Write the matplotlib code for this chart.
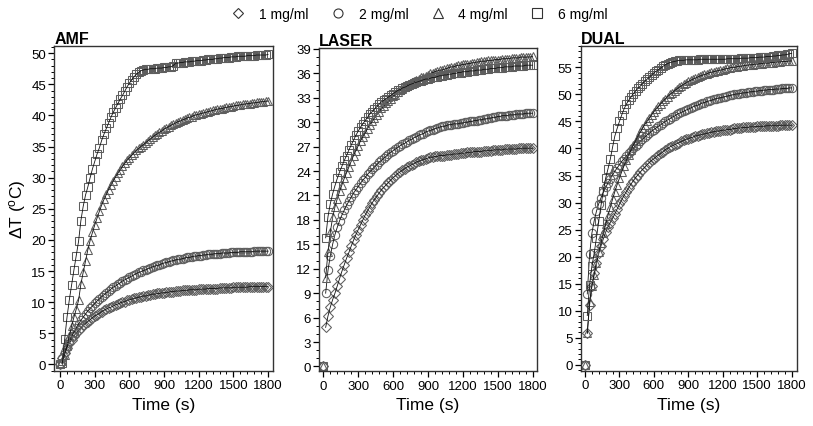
import numpy as np
import matplotlib
matplotlib.use("Agg")
import matplotlib.pyplot as plt
from matplotlib.ticker import MultipleLocator
from matplotlib.lines import Line2D

plt.rcParams['font.family'] = ['Liberation Sans', 'DejaVu Sans']

# sampling times (s), one reading every 20 s
time_s = np.arange(0, 1801, 20)

labels = ['1 mg/ml', '2 mg/ml', '4 mg/ml', '6 mg/ml']
markers = ['D', 'o', '^', 's']

# ---- AMF ----
amf_1 = [0.0, 1.0, 1.9, 2.7, 3.4, 4.0, 4.6, 5.1, 5.5, 5.9,
         6.3, 6.6, 6.9, 7.2, 7.5, 7.8, 8.0, 8.2, 8.5, 8.7,
         8.9, 9.1, 9.2, 9.4, 9.6, 9.7, 9.9, 10.0, 10.1, 10.3,
         10.4, 10.5, 10.6, 10.7, 10.8, 10.9, 11.0, 11.0, 11.1, 11.2,
         11.3, 11.3, 11.4, 11.4, 11.5, 11.5, 11.6, 11.6, 11.7, 11.7,
         11.8, 11.8, 11.8, 11.9, 11.9, 11.9, 12.0, 12.0, 12.0, 12.0,
         12.1, 12.1, 12.1, 12.1, 12.2, 12.2, 12.2, 12.2, 12.2, 12.3,
         12.3, 12.3, 12.3, 12.3, 12.3, 12.4, 12.4, 12.4, 12.4, 12.4,
         12.4, 12.4, 12.5, 12.5, 12.5, 12.5, 12.5, 12.5, 12.5, 12.5,
         12.5]
amf_2 = [0.0, 1.0, 2.0, 2.9, 3.7, 4.5, 5.2, 5.9, 6.5, 7.1,
         7.6, 8.1, 8.6, 9.0, 9.4, 9.8, 10.2, 10.5, 10.9, 11.2,
         11.5, 11.8, 12.1, 12.4, 12.6, 12.9, 13.1, 13.4, 13.6, 13.8,
         14.0, 14.2, 14.4, 14.6, 14.8, 14.9, 15.1, 15.2, 15.4, 15.5,
         15.7, 15.8, 15.9, 16.0, 16.2, 16.3, 16.4, 16.5, 16.6, 16.7,
         16.8, 16.9, 16.9, 17.0, 17.1, 17.2, 17.2, 17.3, 17.4, 17.4,
         17.5, 17.5, 17.6, 17.6, 17.7, 17.7, 17.7, 17.8, 17.8, 17.8,
         17.9, 17.9, 17.9, 17.9, 18.0, 18.0, 18.0, 18.0, 18.1, 18.1,
         18.1, 18.1, 18.1, 18.1, 18.2, 18.2, 18.2, 18.2, 18.2, 18.2,
         18.2]
amf_4 = [0.0, 0.5, 1.6, 3.0, 4.6, 6.2, 7.6, 8.9, 10.3, 12.9,
         14.8, 16.6, 18.4, 19.9, 21.2, 22.4, 23.5, 24.6, 25.6, 26.5,
         27.3, 28.1, 28.8, 29.5, 30.1, 30.7, 31.3, 31.8, 32.3, 32.8,
         33.2, 33.6, 34.0, 34.4, 34.7, 35.0, 35.3, 35.6, 35.9, 36.2,
         36.5, 36.8, 37.0, 37.3, 37.5, 37.8, 38.0, 38.2, 38.4, 38.6,
         38.8, 39.0, 39.1, 39.3, 39.4, 39.6, 39.7, 39.8, 40.0, 40.1,
         40.2, 40.3, 40.4, 40.5, 40.6, 40.7, 40.8, 40.9, 41.0, 41.1,
         41.1, 41.2, 41.3, 41.4, 41.4, 41.5, 41.6, 41.6, 41.7, 41.8,
         41.8, 41.9, 41.9, 42.0, 42.0, 42.1, 42.1, 42.2, 42.2, 42.3,
         42.3]
amf_6 = [0.0, 0.2, 4.1, 7.6, 10.4, 12.8, 15.2, 17.5, 19.8, 23.1,
         25.4, 27.2, 28.5, 30.0, 31.4, 32.6, 33.8, 34.8, 36.0, 37.0,
         37.9, 38.8, 39.7, 40.5, 41.2, 41.9, 42.6, 43.2, 43.9, 44.6,
         45.2, 45.7, 46.2, 46.6, 46.9, 47.2, 47.3, 47.4, 47.4, 47.5,
         47.5, 47.5, 47.6, 47.6, 47.6, 47.7, 47.7, 47.8, 47.8, 48.0,
         48.4, 48.4, 48.5, 48.5, 48.6, 48.6, 48.6, 48.7, 48.7, 48.8,
         48.8, 48.8, 48.9, 48.9, 49.0, 49.0, 49.0, 49.1, 49.1, 49.2,
         49.2, 49.3, 49.3, 49.3, 49.4, 49.4, 49.4, 49.5, 49.5, 49.5,
         49.5, 49.6, 49.6, 49.6, 49.6, 49.7, 49.7, 49.7, 49.7, 49.7,
         49.8]

# ---- LASER ----
laser_1 = [0.0, 4.8, 6.2, 7.3, 8.2, 9.0, 9.9, 10.8, 11.7, 12.5,
           13.3, 14.0, 14.8, 15.5, 16.2, 16.8, 17.4, 18.0, 18.6, 19.1,
           19.6, 20.1, 20.5, 20.9, 21.3, 21.7, 22.0, 22.3, 22.6, 22.9,
           23.2, 23.4, 23.7, 23.9, 24.1, 24.3, 24.5, 24.6, 24.8, 24.9,
           25.1, 25.2, 25.3, 25.4, 25.5, 25.6, 25.7, 25.7, 25.8, 25.8,
           25.9, 25.9, 25.9, 26.0, 26.0, 26.0, 26.1, 26.1, 26.1, 26.2,
           26.2, 26.2, 26.3, 26.3, 26.3, 26.4, 26.4, 26.4, 26.4, 26.5,
           26.5, 26.5, 26.5, 26.6, 26.6, 26.6, 26.6, 26.6, 26.7, 26.7,
           26.7, 26.7, 26.7, 26.7, 26.8, 26.8, 26.8, 26.8, 26.8, 26.8,
           26.8]
laser_2 = [0.0, 9.0, 11.8, 13.6, 15.0, 16.2, 17.1, 17.9, 18.6, 19.2,
           19.8, 20.3, 20.8, 21.3, 21.7, 22.1, 22.5, 22.9, 23.2, 23.6,
           23.9, 24.2, 24.5, 24.8, 25.1, 25.3, 25.6, 25.8, 26.1, 26.3,
           26.5, 26.7, 26.9, 27.1, 27.3, 27.4, 27.6, 27.8, 27.9, 28.1,
           28.2, 28.4, 28.5, 28.6, 28.8, 28.9, 29.0, 29.1, 29.2, 29.3,
           29.4, 29.5, 29.5, 29.6, 29.7, 29.7, 29.8, 29.8, 29.8, 29.9,
           29.9, 30.0, 30.0, 30.1, 30.1, 30.2, 30.2, 30.3, 30.3, 30.4,
           30.4, 30.5, 30.5, 30.6, 30.6, 30.7, 30.7, 30.8, 30.8, 30.8,
           30.9, 30.9, 30.9, 31.0, 31.0, 31.0, 31.0, 31.1, 31.1, 31.1,
           31.1]
laser_4 = [0.0, 10.9, 14.1, 16.5, 18.3, 19.6, 20.6, 21.5, 22.3, 23.1,
           23.8, 24.5, 25.2, 25.9, 26.5, 27.1, 27.7, 28.2, 28.7, 29.2,
           29.7, 30.1, 30.5, 30.9, 31.3, 31.7, 32.0, 32.3, 32.6, 32.9,
           33.2, 33.4, 33.7, 33.9, 34.1, 34.3, 34.5, 34.7, 34.9, 35.0,
           35.2, 35.3, 35.5, 35.6, 35.7, 35.8, 36.0, 36.1, 36.2, 36.3,
           36.4, 36.4, 36.5, 36.6, 36.7, 36.8, 36.8, 36.9, 37.0, 37.0,
           37.1, 37.1, 37.2, 37.2, 37.3, 37.3, 37.4, 37.4, 37.5, 37.5,
           37.5, 37.6, 37.6, 37.6, 37.7, 37.7, 37.7, 37.8, 37.8, 37.8,
           37.8, 37.9, 37.9, 37.9, 37.9, 38.0, 38.0, 38.0, 38.0, 38.0,
           38.1]
laser_6 = [0.0, 15.8, 18.4, 20.0, 21.2, 22.2, 23.1, 23.9, 24.6, 25.3,
           25.9, 26.6, 27.2, 27.8, 28.4, 28.9, 29.4, 29.8, 30.2, 30.6,
           31.0, 31.3, 31.6, 31.9, 32.2, 32.5, 32.7, 32.9, 33.1, 33.3,
           33.5, 33.7, 33.9, 34.0, 34.2, 34.3, 34.4, 34.6, 34.7, 34.8,
           34.9, 35.0, 35.1, 35.2, 35.3, 35.3, 35.4, 35.5, 35.5, 35.6,
           35.7, 35.7, 35.8, 35.8, 35.9, 35.9, 36.0, 36.0, 36.1, 36.1,
           36.2, 36.2, 36.2, 36.3, 36.3, 36.3, 36.4, 36.4, 36.4, 36.5,
           36.5, 36.5, 36.6, 36.6, 36.6, 36.7, 36.7, 36.7, 36.8, 36.8,
           36.8, 36.8, 36.9, 36.9, 36.9, 36.9, 36.9, 37.0, 37.0, 37.0,
           37.0]

# ---- DUAL ----
dual_1 = [0.0, 5.8, 11.0, 14.6, 17.0, 18.9, 20.6, 22.0, 23.3, 24.5,
          25.5, 26.3, 27.1, 27.9, 28.8, 29.7, 30.5, 31.3, 32.0, 32.7,
          33.4, 34.0, 34.6, 35.1, 35.6, 36.1, 36.5, 37.0, 37.4, 37.8,
          38.1, 38.5, 38.8, 39.1, 39.4, 39.8, 40.0, 40.3, 40.5, 40.7,
          40.9, 41.1, 41.3, 41.5, 41.7, 41.8, 42.0, 42.1, 42.3, 42.4,
          42.5, 42.6, 42.7, 42.8, 42.9, 43.0, 43.1, 43.2, 43.2, 43.3,
          43.4, 43.4, 43.5, 43.5, 43.6, 43.7, 43.7, 43.8, 43.8, 43.9,
          43.9, 43.9, 44.0, 44.0, 44.0, 44.1, 44.1, 44.1, 44.1, 44.2,
          44.2, 44.2, 44.2, 44.2, 44.2, 44.3, 44.3, 44.3, 44.3, 44.3,
          44.3]
dual_2 = [0.0, 13.1, 20.4, 24.3, 26.6, 28.4, 29.8, 30.9, 31.9, 32.8,
          33.6, 34.4, 35.1, 35.8, 36.4, 37.0, 37.6, 38.1, 38.6, 39.1,
          39.6, 40.0, 40.5, 40.9, 41.3, 41.7, 42.1, 42.5, 42.8, 43.2,
          43.5, 43.8, 44.1, 44.4, 44.7, 45.0, 45.3, 45.5, 45.8, 46.0,
          46.3, 46.5, 46.7, 46.9, 47.1, 47.3, 47.5, 47.7, 47.9, 48.0,
          48.2, 48.4, 48.5, 48.7, 48.8, 48.9, 49.1, 49.2, 49.3, 49.4,
          49.5, 49.6, 49.7, 49.8, 49.9, 50.0, 50.1, 50.1, 50.2, 50.3,
          50.3, 50.4, 50.5, 50.5, 50.6, 50.6, 50.7, 50.7, 50.8, 50.8,
          50.9, 50.9, 50.9, 51.0, 51.0, 51.0, 51.1, 51.1, 51.1, 51.2,
          51.2]
dual_4 = [0.0, 5.9, 11.6, 14.5, 16.6, 18.8, 20.9, 22.6, 24.3, 26.0,
          27.6, 29.1, 30.6, 32.0, 33.3, 34.5, 35.7, 36.8, 37.8, 38.8,
          39.7, 40.6, 41.4, 42.2, 43.0, 43.7, 44.4, 45.0, 45.6, 46.2,
          46.8, 47.3, 47.8, 48.3, 48.7, 49.2, 49.6, 50.0, 50.3, 50.7,
          51.0, 51.3, 51.6, 51.9, 52.1, 52.4, 52.6, 52.8, 53.0, 53.2,
          53.4, 53.5, 53.7, 53.8, 54.0, 54.1, 54.2, 54.3, 54.4, 54.5,
          54.6, 54.7, 54.8, 54.9, 55.0, 55.0, 55.1, 55.2, 55.2, 55.3,
          55.4, 55.4, 55.5, 55.5, 55.6, 55.6, 55.7, 55.7, 55.8, 55.8,
          55.8, 55.9, 55.9, 56.0, 56.0, 56.0, 56.1, 56.1, 56.1, 56.2,
          56.2]
dual_6 = [0.0, 9.1, 14.8, 18.2, 20.6, 23.5, 26.6, 29.5, 32.2, 34.5,
          36.2, 38.0, 40.2, 42.3, 43.7, 45.0, 46.2, 47.3, 48.2, 48.9,
          49.5, 50.1, 50.6, 51.1, 51.5, 52.0, 52.4, 52.8, 53.2, 53.6,
          54.0, 54.3, 54.6, 54.9, 55.2, 55.5, 55.7, 55.9, 56.0, 56.1,
          56.2, 56.3, 56.3, 56.3, 56.4, 56.4, 56.4, 56.4, 56.4, 56.4,
          56.5, 56.5, 56.5, 56.5, 56.5, 56.5, 56.5, 56.5, 56.5, 56.5,
          56.5, 56.5, 56.6, 56.6, 56.6, 56.6, 56.6, 56.6, 56.7, 56.7,
          56.7, 56.7, 56.8, 56.8, 56.8, 56.8, 56.9, 56.9, 56.9, 57.0,
          57.0, 57.0, 57.1, 57.1, 57.2, 57.2, 57.3, 57.3, 57.4, 57.5,
          57.6]

panels = [
    ('AMF', [amf_1, amf_2, amf_4, amf_6], (-1.0, 51.1), 5,
     [0.0668, 0.1295, 0.2686, 0.7597], (-50, 1840)),
    ('LASER', [laser_1, laser_2, laser_4, laser_6], (-0.6, 39.1), 3,
     [0.3927, 0.1280, 0.2674, 0.7570], (-35, 1835)),
    ('DUAL', [dual_1, dual_2, dual_4, dual_6], (-1.1, 59.0), 5,
     [0.7143, 0.1295, 0.2657, 0.7610], (-37, 1844)),
]

fig = plt.figure(figsize=(8.13, 4.27), dpi=100)
edge = '#5e5e5e'

for i, (name, series, ylim, ystep, rect, xlim) in enumerate(panels):
    ax = fig.add_axes(rect)
    for vals, m in zip(series, markers):
        assert len(vals) == len(time_s), (name, len(vals))
        ms = 5.2 if m == 'D' else 6.0
        ax.plot(time_s, vals, linestyle='none', marker=m, ms=ms,
                mfc='none', mec=edge, mew=0.75)
        # fitted curve drawn through the readings after switch-on
        ax.plot(time_s[1:], vals[1:], color='#111111', lw=0.6)
    ax.set_xlim(*xlim)
    ax.set_ylim(*ylim)
    ax.xaxis.set_major_locator(MultipleLocator(300))
    ax.xaxis.set_minor_locator(MultipleLocator(60))
    ax.yaxis.set_major_locator(MultipleLocator(ystep))
    ax.yaxis.set_minor_locator(MultipleLocator(1))
    ax.tick_params(which='major', direction='out', length=4, width=0.9,
                   labelsize=9.5, pad=2)
    ax.tick_params(which='minor', direction='out', length=2, width=0.7)
    for sp in ax.spines.values():
        sp.set_linewidth(1.0)
        sp.set_color('#333333')
    ax.set_xlabel('Time (s)', fontsize=12.5, labelpad=4)
    if i == 0:
        ax.set_ylabel(r'ΔT ($\mathregular{^{o}}$C)', fontsize=12.5, labelpad=2)
    ax.set_title(name, loc='left', fontsize=11.5, fontweight='bold', pad=1)

handles = [Line2D([], [], linestyle='none', marker=m, ms=(5.5 if m == 'D' else 6.5),
                  mfc='none', mec='#333333', mew=0.8) for m in markers]
fig.legend(handles, labels, loc='center', bbox_to_anchor=(0.516, 0.965),
           ncol=4, frameon=False, fontsize=10, handletextpad=1.0,
           columnspacing=1.6, handlelength=1.0)

fig.savefig('out.png', dpi=100)
